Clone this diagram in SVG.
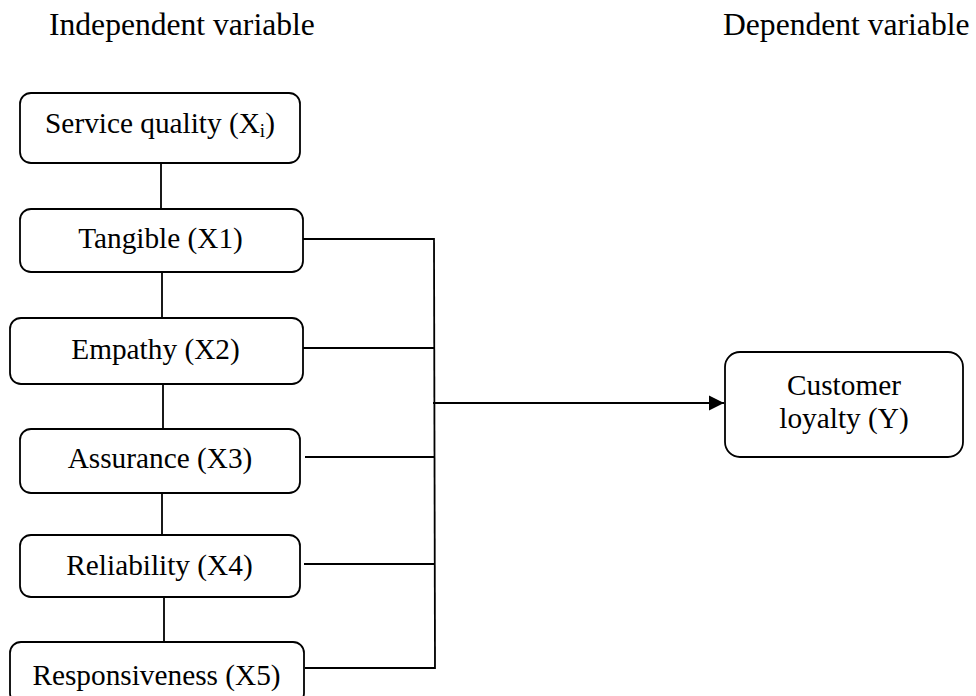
<svg xmlns="http://www.w3.org/2000/svg" width="976" height="696" viewBox="0 0 976 696">
  <defs>
    <style>
      .box { fill: #ffffff; stroke: #000000; stroke-width: 1.8; }
      .lbl { font-family: "Liberation Serif", "Times New Roman", serif; font-size: 29.3px; fill: #000000; text-anchor: middle; }
      .hdr { font-family: "Liberation Serif", "Times New Roman", serif; font-size: 31.6px; fill: #000000; }
      .wire { fill: none; stroke: #000000; stroke-width: 1.8; }
    </style>
    <marker id="arrowhead" markerWidth="16" markerHeight="16" refX="15" refY="8" orient="auto" markerUnits="userSpaceOnUse">
      <path d="M0,0.5 L15,8 L0,15.5 Z" fill="#000000"/>
    </marker>
  </defs>

  <rect width="976" height="696" fill="#ffffff"/>

  <!-- column headings -->
  <text class="hdr" x="49" y="35">Independent variable</text>
  <text class="hdr" x="723" y="35">Dependent variable</text>

  <!-- connectors -->
  <g id="connectors">
    <!-- vertical chain between the dimension boxes -->
    <line class="wire" x1="161" y1="163" x2="161" y2="209"/>
    <line class="wire" x1="162" y1="272" x2="162" y2="318"/>
    <line class="wire" x1="163" y1="384" x2="163" y2="429"/>
    <line class="wire" x1="162" y1="493" x2="162" y2="535"/>
    <line class="wire" x1="164" y1="597" x2="164" y2="642"/>
    <!-- branches into the collector bus -->
    <line class="wire" x1="302" y1="239" x2="434" y2="239"/>
    <line class="wire" x1="301" y1="348" x2="434" y2="348"/>
    <line class="wire" x1="305" y1="457" x2="434" y2="457"/>
    <line class="wire" x1="304" y1="564" x2="434" y2="564"/>
    <line class="wire" x1="305" y1="668" x2="435" y2="668"/>
    <!-- collector bus -->
    <line class="wire" x1="434" y1="238" x2="435" y2="669"/>
    <!-- arrow to the outcome -->
    <line class="wire" x1="433" y1="403" x2="724" y2="403" stroke-width="2.2" marker-end="url(#arrowhead)"/>
  </g>

  <g id="service-quality">
    <rect class="box" x="20" y="93" width="280" height="70" rx="11"/>
    <text class="lbl" x="160" y="133">Service quality (X<tspan font-size="19" dy="4">i</tspan><tspan dy="-4">)</tspan></text>
  </g>

  <g id="tangible">
    <rect class="box" x="20" y="209" width="283" height="63" rx="11"/>
    <text class="lbl" x="160.5" y="248">Tangible (X1)</text>
  </g>

  <g id="empathy">
    <rect class="box" x="10" y="318" width="293" height="66" rx="11"/>
    <text class="lbl" x="155.5" y="359">Empathy (X2)</text>
  </g>

  <g id="assurance">
    <rect class="box" x="20" y="429" width="280" height="64" rx="11"/>
    <text class="lbl" x="160" y="468">Assurance (X3)</text>
  </g>

  <g id="reliability">
    <rect class="box" x="20" y="535" width="280" height="62" rx="11"/>
    <text class="lbl" x="159.5" y="575">Reliability (X4)</text>
  </g>

  <g id="responsiveness">
    <rect class="box" x="10" y="642" width="294" height="62" rx="11"/>
    <text class="lbl" x="156.5" y="685">Responsiveness (X5)</text>
  </g>

  <g id="customer-loyalty">
    <rect class="box" x="725" y="352" width="238" height="105" rx="15"/>
    <text class="lbl" x="844" y="395">Customer</text>
    <text class="lbl" x="844" y="428">loyalty (Y)</text>
  </g>
</svg>
